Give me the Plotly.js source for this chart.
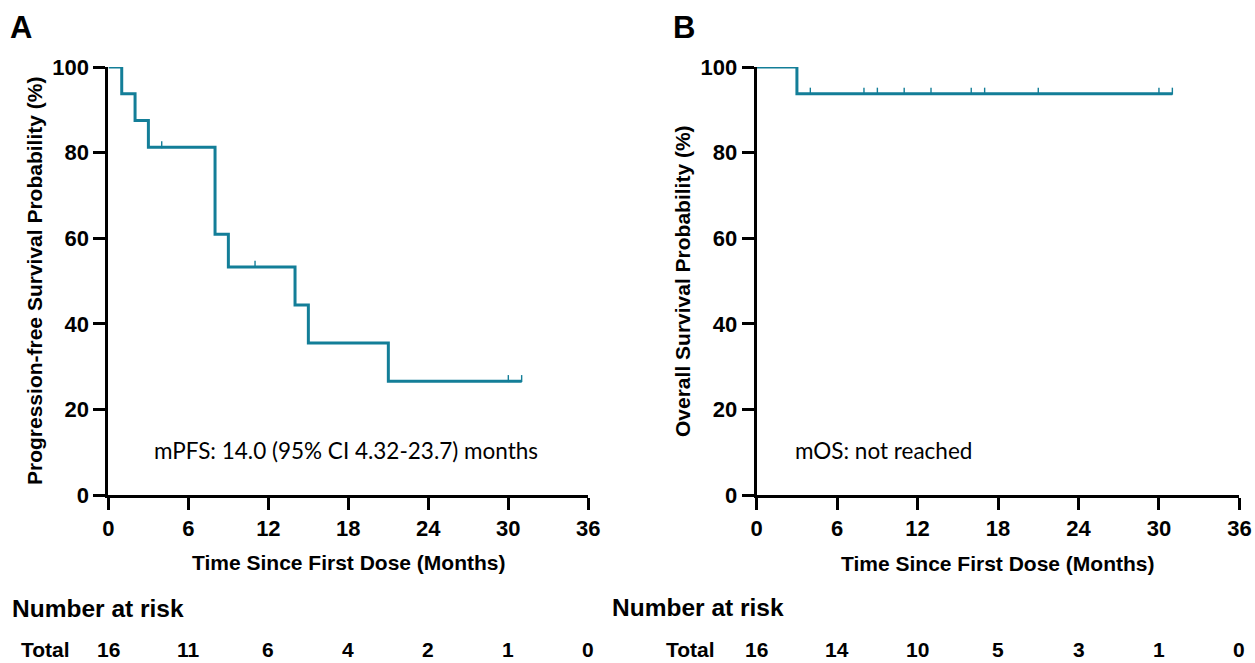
<!DOCTYPE html>
<html>
<head>
<meta charset="utf-8">
<script src="https://cdn.plot.ly/plotly-3.0.1.min.js"></script>
<style>html,body{margin:0;padding:0;background:#fff;}#chart{width:1255px;height:663px;}</style>
</head>
<body>
<div id="chart"></div>
<script>
// ---- Data ----
const xTicks = [0, 6, 12, 18, 24, 30, 36];
const yTicks = [0, 20, 40, 60, 80, 100];

// Panel A: progression-free survival (Kaplan-Meier steps)
const pfsTime = [0, 1, 2, 3, 8, 9, 14, 15, 21, 31];
const pfsSurv = [100, 93.75, 87.5, 81.25, 60.94, 53.3, 44.4, 35.5, 26.6, 26.6];
const pfsCensorTime = [4, 11, 30, 31];
const pfsCensorSurv = [81.25, 53.3, 26.6, 26.6];
const pfsAtRisk = [16, 11, 6, 4, 2, 1, 0];

// Panel B: overall survival
const osTime = [0, 3, 31];
const osSurv = [100, 93.75, 93.75];
const osCensorTime = [4, 8, 9, 11, 13, 16, 17, 21, 30, 31];
const osCensorSurv = [93.75, 93.75, 93.75, 93.75, 93.75, 93.75, 93.75, 93.75, 93.75, 93.75];
const osAtRisk = [16, 14, 10, 5, 3, 1, 0];

const pfsLabel = "mPFS: 14.0 (95% CI 4.32-23.7) months";
const osLabel = "mOS: not reached";
const xTitle = "Time Since First Dose (Months)";
const yTitleA = "Progression-free Survival Probability (%)";
const yTitleB = "Overall Survival Probability (%)";

// ---- Style / layout ----
const W = 1255, H = 663;
const teal = "#137e98";
const px = v => v / W;
const py = v => 1 - v / H;
const armFont = "Liberation Sans, Arial, sans-serif";
const censorLift = 0.6;

function curve(t, s, xa, ya) {
  return {x: t, y: s, xaxis: xa, yaxis: ya, type: "scatter", mode: "lines",
          line: {shape: "hv", color: teal, width: 3}, hoverinfo: "skip", showlegend: false};
}
function censor(t, s, xa, ya) {
  return {x: t, y: s.map(v => v + censorLift), xaxis: xa, yaxis: ya, type: "scatter", mode: "markers",
          marker: {symbol: "line-ns", size: 5, line: {color: teal, width: 1.4}},
          cliponaxis: false, hoverinfo: "skip", showlegend: false};
}

const traces = [
  curve(pfsTime, pfsSurv, "x", "y"),
  censor(pfsCensorTime, pfsCensorSurv, "x", "y"),
  curve(osTime, osSurv, "x2", "y2"),
  censor(osCensorTime, osCensorSurv, "x2", "y2")
];

const tickFont = {family: armFont, size: 22, weight: "bold", color: "#000"};
function xAxis(dom, anchor) {
  return {domain: dom, anchor: anchor, range: [0, 36], tickvals: xTicks, ticktext: xTicks.map(String),
          showline: true, linewidth: 3, linecolor: "#000", ticks: "outside", ticklen: 12, tickwidth: 3,
          tickcolor: "#000", showgrid: false, zeroline: false, fixedrange: true, tickfont: tickFont};
}
function yAxis(dom, anchor) {
  return {domain: dom, anchor: anchor, range: [0, 100], tickvals: yTicks, ticktext: yTicks.map(String),
          showline: true, linewidth: 3, linecolor: "#000", ticks: "outside", ticklen: 12, tickwidth: 3,
          tickcolor: "#000", showgrid: false, zeroline: false, fixedrange: true, tickfont: tickFont};
}

const yDom = [py(495), py(67)];
const annotations = [];
function txt(text, x, y, size, opts) {
  annotations.push(Object.assign({text: text, x: x, y: y, xref: "paper", yref: "paper",
    showarrow: false, xanchor: "center", yanchor: "middle",
    font: {family: armFont, size: size, weight: "bold", color: "#000"}}, opts || {}));
}
const noteFont = {family: "Lato, Noto Sans, sans-serif", size: 22.5, color: "#000"};
// panel letters
txt("A", px(21), py(28), 31);
txt("B", px(684), py(28), 31);
// axis titles
txt(xTitle, px(349), py(562), 21);
txt(xTitle, px(998), py(563), 21);
txt(yTitleA, px(34), py(281), 21, {textangle: -90});
txt(yTitleB, px(682), py(281), 21, {textangle: -90});
// median labels
txt(pfsLabel, px(346), py(450), 22.5, {font: noteFont});
txt(osLabel, px(883), py(450), 22.5, {font: noteFont});
// number at risk
txt("Number at risk", px(10), py(608), 24.5, {xanchor: "left"});
txt("Number at risk", px(610), py(607), 24.5, {xanchor: "left"});
txt("Total", px(45), py(663), 21, {yanchor: "bottom"});
txt("Total", px(690), py(663), 21, {yanchor: "bottom"});
xTicks.forEach((t, i) => {
  annotations.push({text: String(pfsAtRisk[i]), x: t, xref: "x", y: py(663), yref: "paper", showarrow: false,
    xanchor: "center", yanchor: "bottom", font: {family: armFont, size: 21, weight: "bold", color: "#000"}});
  annotations.push({text: String(osAtRisk[i]), x: t, xref: "x2", y: py(663), yref: "paper", showarrow: false,
    xanchor: "center", yanchor: "bottom", font: {family: armFont, size: 21, weight: "bold", color: "#000"}});
});

const layout = {
  width: W, height: H, margin: {l: 0, r: 0, t: 0, b: 0},
  paper_bgcolor: "#fff", plot_bgcolor: "#fff",
  xaxis: xAxis([px(108.4), px(588.3)], "y"),
  yaxis: yAxis(yDom, "x"),
  xaxis2: xAxis([px(756.7), px(1239.4)], "y2"),
  yaxis2: yAxis(yDom, "x2"),
  annotations: annotations,
  showlegend: false
};

Plotly.newPlot("chart", traces, layout, {displayModeBar: false, staticPlot: true});
</script>
</body>
</html>
